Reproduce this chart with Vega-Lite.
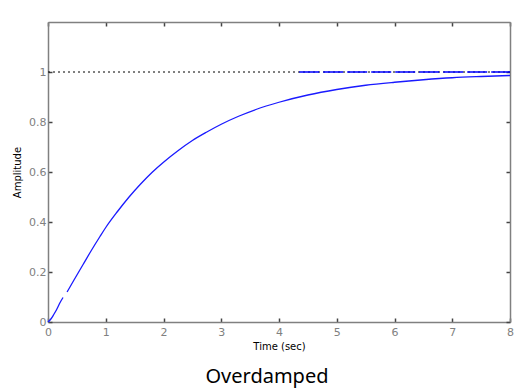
{
  "$schema": "https://vega.github.io/schema/vega-lite/v6.json",
  "autosize": "none",
  "width": 462,
  "height": 300,
  "padding": {"left": 48, "top": 22, "right": 10, "bottom": 66},
  "background": "white",
  "title": {"text": "Overdamped", "orient": "bottom", "anchor": "middle", "dx": -12, "offset": 16, "font": "Noto Sans", "fontSize": 20, "fontWeight": "normal", "color": "#000000"},
  "config": {
    "view": {"stroke": null},
    "axis": {"domainColor": "#808080", "domainWidth": 1.5, "tickColor": "#444444", "tickWidth": 1.5, "tickSize": -4, "labelColor": "#808080", "labelFont": "DejaVu Sans", "labelFontSize": 11, "labelFlush": false, "labelOverlap": false, "titleFont": "DejaVu Sans", "titleFontSize": 10, "titleFontWeight": "normal", "titleColor": "#000000", "grid": false, "format": "~g"}
  },
  "datasets": {
    "curve": [
      {"t": 0, "amp": 0, "seg": "a"},
      {"t": 0.05, "amp": 0.012, "seg": "a"},
      {"t": 0.1, "amp": 0.03, "seg": "a"},
      {"t": 0.15, "amp": 0.05, "seg": "a"},
      {"t": 0.2, "amp": 0.074, "seg": "a"},
      {"t": 0.26, "amp": 0.098, "seg": "a"},
      {"t": 0.33, "amp": 0.12, "seg": "b"},
      {"t": 0.45, "amp": 0.168, "seg": "b"},
      {"t": 0.61, "amp": 0.231, "seg": "b"},
      {"t": 0.75, "amp": 0.286, "seg": "b"},
      {"t": 0.9, "amp": 0.342, "seg": "b"},
      {"t": 1.0, "amp": 0.378, "seg": "b"},
      {"t": 1.2, "amp": 0.441, "seg": "b"},
      {"t": 1.4, "amp": 0.499, "seg": "b"},
      {"t": 1.6, "amp": 0.551, "seg": "b"},
      {"t": 1.8, "amp": 0.598, "seg": "b"},
      {"t": 2.0, "amp": 0.639, "seg": "b"},
      {"t": 2.25, "amp": 0.685, "seg": "b"},
      {"t": 2.5, "amp": 0.726, "seg": "b"},
      {"t": 2.75, "amp": 0.76, "seg": "b"},
      {"t": 3.0, "amp": 0.791, "seg": "b"},
      {"t": 3.3, "amp": 0.823, "seg": "b"},
      {"t": 3.6, "amp": 0.85, "seg": "b"},
      {"t": 4.0, "amp": 0.879, "seg": "b"},
      {"t": 4.5, "amp": 0.908, "seg": "b"},
      {"t": 5.0, "amp": 0.93, "seg": "b"},
      {"t": 5.5, "amp": 0.947, "seg": "b"},
      {"t": 6.0, "amp": 0.959, "seg": "b"},
      {"t": 6.5, "amp": 0.969, "seg": "b"},
      {"t": 7.0, "amp": 0.977, "seg": "b"},
      {"t": 7.5, "amp": 0.982, "seg": "b"},
      {"t": 8.0, "amp": 0.986, "seg": "b"}
    ],
    "ref": [{"x0": 0, "x1": 8, "y": 1}],
    "refBlue": [{"x0": 4.35, "x1": 8, "y": 1}]
  },
  "resolve": {"axis": {"x": "independent", "y": "independent"}},
  "layer": [
    {
      "data": {"name": "ref"},
      "mark": {"type": "rule", "color": "#000000", "strokeWidth": 1, "strokeDash": [2, 3]},
      "encoding": {
        "x": {"field": "x0", "type": "quantitative", "scale": {"domain": [0, 8], "nice": false}, "axis": {"orient": "top", "labels": false, "title": null, "values": [0,1,2,3,4,5,6,7,8]}},
        "x2": {"field": "x1"},
        "y": {"field": "y", "type": "quantitative", "scale": {"domain": [0, 1.2], "nice": false}, "axis": {"orient": "right", "labels": false, "title": null, "values": [0, 0.2, 0.4, 0.6, 0.8, 1]}}
      }
    },
    {
      "data": {"name": "refBlue"},
      "mark": {"type": "rule", "color": "#0000ff", "strokeWidth": 1.5, "strokeDash": [20, 4]},
      "encoding": {
        "x": {"field": "x0", "type": "quantitative", "axis": null},
        "x2": {"field": "x1"},
        "y": {"field": "y", "type": "quantitative", "axis": null}
      }
    },
    {
      "data": {"name": "curve"},
      "mark": {"type": "line", "color": "#1a1aff", "strokeWidth": 1.3, "interpolate": "monotone"},
      "encoding": {
        "x": {"field": "t", "type": "quantitative", "axis": {"orient": "bottom", "title": "Time (sec)", "values": [0,1,2,3,4,5,6,7,8], "labelPadding": 8, "titlePadding": 4}},
        "y": {"field": "amp", "type": "quantitative", "axis": {"orient": "left", "title": "Amplitude", "values": [0, 0.2, 0.4, 0.6, 0.8, 1], "labelPadding": 6, "titlePadding": 6}},
        "detail": {"field": "seg", "type": "nominal"}
      }
    }
  ]
}
